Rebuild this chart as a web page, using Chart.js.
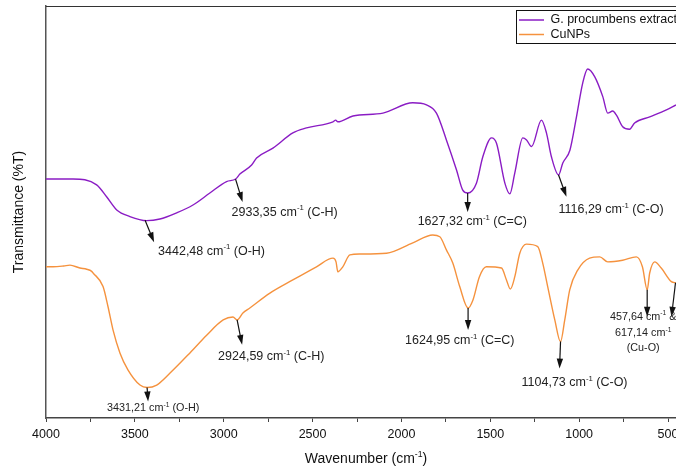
<!DOCTYPE html>
<html>
<head>
<meta charset="utf-8">
<script src="https://cdn.jsdelivr.net/npm/chart.js@4.4.0/dist/chart.umd.min.js"></script>
<style>
  html, body { margin: 0; padding: 0; background: #fff; }
  #wrap { width: 676px; height: 468px; }
</style>
</head>
<body>
<div id="wrap"><canvas id="ftir" width="676" height="468"></canvas></div>
<script>
// FTIR spectra, values (transmittance in arbitrary %T units)
const extractWn = [4000, 3848, 3715, 3659, 3602, 3528, 3434, 3359, 3265, 3173, 3078, 2984, 2933, 2909, 2843, 2815, 2723, 2611, 2534, 2385, 2370, 2358, 2273, 2104, 1936, 1859, 1803, 1747, 1690, 1655, 1627, 1578, 1542, 1493, 1465, 1418, 1390, 1362, 1317, 1296, 1268, 1212, 1184, 1156, 1116, 1092, 1052, 1015, 980, 952, 912, 867, 839, 811, 790, 755, 716, 688, 603, 509, 455];
const extractT = [58.0, 58.0, 56.6, 53.7, 50.5, 48.9, 47.9, 48.3, 49.8, 51.7, 54.6, 57.4, 58.0, 59.2, 61.4, 63.1, 65.5, 69.2, 70.4, 71.9, 72.3, 71.9, 73.3, 74.0, 76.5, 76.0, 74.0, 67.5, 60.2, 55.3, 54.6, 57.0, 63.4, 68.0, 66.7, 57.0, 54.4, 59.5, 68.0, 67.5, 65.9, 72.3, 69.2, 63.4, 59.0, 61.9, 65.0, 73.1, 81.3, 84.7, 82.8, 78.0, 74.0, 74.5, 73.5, 70.7, 70.1, 71.6, 73.1, 74.8, 76.0];

const cunpsWn = [4000, 3960, 3900, 3865, 3809, 3771, 3743, 3735, 3679, 3651, 3623, 3584, 3539, 3471, 3431, 3377, 3302, 3190, 3096, 3003, 2948, 2924, 2892, 2853, 2740, 2611, 2478, 2385, 2368, 2358, 2330, 2290, 2234, 2084, 1936, 1824, 1784, 1747, 1711, 1672, 1625, 1598, 1561, 1522, 1437, 1409, 1387, 1362, 1334, 1296, 1233, 1205, 1177, 1137, 1105, 1081, 1053, 1008, 941, 884, 839, 755, 678, 644, 617, 603, 575, 538, 481, 455];
const cunpsT = [36.7, 36.7, 36.9, 37.1, 36.4, 36.1, 35.6, 35.2, 31.9, 27.0, 21.4, 15.8, 11.7, 8.0, 7.4, 8.0, 10.9, 15.8, 20.1, 23.8, 24.5, 23.8, 25.5, 26.7, 30.3, 33.5, 36.7, 38.8, 37.9, 35.5, 36.7, 39.6, 39.8, 40.0, 42.5, 44.4, 44.0, 40.8, 37.6, 31.9, 26.7, 28.6, 34.3, 36.7, 36.4, 33.5, 31.3, 34.3, 40.0, 42.2, 41.6, 37.6, 31.9, 23.8, 18.5, 23.8, 31.1, 35.9, 38.8, 39.1, 37.9, 38.3, 39.1, 36.7, 31.1, 35.2, 37.9, 36.4, 33.1, 32.8];

const seriesNames = ['G. procumbens extract', 'CuNPs'];
const xTicks = [4000, 3500, 3000, 2500, 2000, 1500, 1000, 500];
const xMinorTicks = [3750, 3250, 2750, 2250, 1750, 1250, 750];

// peak annotations
const peakWn = [3442.48, 2933.35, 1627.32, 1116.29, 3431.21, 2924.59, 1624.95, 1104.73, 617.14, 457.64];
const peakSeries = [0, 0, 0, 0, 1, 1, 1, 1, 1, 1];
const peakBond = ['(O-H)', '(C-H)', '(C=C)', '(C-O)', '(O-H)', '(C-H)', '(C=C)', '(C-O)', '(Cu-O)', '(Cu-O)'];

const FONT = '"Liberation Sans", Arial, Helvetica, sans-serif';
const colors = ['#8a1cc4', '#f5923e'];

// arrow vector and label offset (pixels) for each peak; lx null = shared label
const peakLayout = [
  { dx: 9, dy: 22, lx: 13, ly: 31, size: 12.5 },
  { dx: 7, dy: 23, lx: -4, ly: 33, size: 12.5 },
  { dx: 0, dy: 19, lx: -50, ly: 29, size: 12.5 },
  { dx: 8, dy: 22, lx: 0, ly: 35, size: 12.5 },
  { dx: 1, dy: 14, lx: -40, ly: 21, size: 10.8 },
  { dx: 5, dy: 25, lx: -19, ly: 37, size: 12.5 },
  { dx: 0, dy: 22, lx: -63, ly: 33, size: 12.5 },
  { dx: -1, dy: 27, lx: -39, ly: 41, size: 12.5 },
  { dx: 0, dy: 27, lx: null, size: 10.8 },
  { dx: -4, dy: 34, lx: null, size: 10.8 }
];

function toPoints(wn, t) {
  return wn.map((w, i) => ({ x: w, y: t[i] }));
}

function valueAt(wn, t, w) {
  for (let i = 0; i < wn.length - 1; i++) {
    if (w <= wn[i] && w >= wn[i + 1]) {
      const f = (wn[i] - w) / (wn[i] - wn[i + 1]);
      return t[i] + f * (t[i + 1] - t[i]);
    }
  }
  return t[t.length - 1];
}

function richText(ctx, x, y, size, pieces, align) {
  const supSize = size * 0.62;
  let w = 0;
  pieces.forEach(p => {
    ctx.font = `${p[1] ? supSize : size}px ${FONT}`;
    w += ctx.measureText(p[0]).width;
  });
  let cx = align === 'center' ? x - w / 2 : x;
  ctx.textAlign = 'left';
  ctx.textBaseline = 'middle';
  pieces.forEach(p => {
    ctx.font = `${p[1] ? supSize : size}px ${FONT}`;
    ctx.fillText(p[0], cx, p[1] ? y - size * 0.33 : y);
    cx += ctx.measureText(p[0]).width;
  });
}

function wnLabel(w) {
  return w.toFixed(2).replace('.', ',');
}

function arrow(ctx, x1, y1, x2, y2) {
  const a = Math.atan2(y2 - y1, x2 - x1);
  const hl = 10, hw = 3.2;
  const c = Math.cos(a), s = Math.sin(a);
  ctx.beginPath();
  ctx.moveTo(x1, y1);
  ctx.lineTo(x2 - hl * c * 0.7, y2 - hl * s * 0.7);
  ctx.stroke();
  ctx.beginPath();
  ctx.moveTo(x2, y2);
  ctx.lineTo(x2 - hl * c + hw * s, y2 - hl * s - hw * c);
  ctx.lineTo(x2 - hl * c - hw * s, y2 - hl * s + hw * c);
  ctx.closePath();
  ctx.fill();
}

const decorations = {
  id: 'decorations',
  afterDatasetsDraw(chart) {
    const { ctx, chartArea: area, scales: { x, y } } = chart;
    const src = [[extractWn, extractT], [cunpsWn, cunpsT]];
    ctx.save();

    // top frame line
    ctx.strokeStyle = '#333';
    ctx.lineWidth = 1;
    ctx.beginPath();
    ctx.moveTo(area.left, area.top + 0.5);
    ctx.lineTo(area.right, area.top + 0.5);
    ctx.stroke();

    // peak arrows + labels
    ctx.strokeStyle = '#111';
    ctx.fillStyle = '#111';
    ctx.lineWidth = 1.2;
    peakWn.forEach((w, i) => {
      const s = src[peakSeries[i]];
      const px = Math.min(x.getPixelForValue(w), area.right - 0.5);
      const py = y.getPixelForValue(valueAt(s[0], s[1], w));
      const L = peakLayout[i];
      arrow(ctx, px, py, px + L.dx, py + L.dy);
      if (L.lx !== null) {
        ctx.fillStyle = '#222';
        richText(ctx, px + L.lx, py + L.ly, L.size,
          [[wnLabel(w) + ' cm', false], ['-1', true], [' ' + peakBond[i], false]], 'left');
        ctx.fillStyle = '#111';
      }
    });

    // shared Cu-O label
    const cuX = x.getPixelForValue(peakWn[8]) - 4;
    const cuY = y.getPixelForValue(valueAt(cunpsWn, cunpsT, peakWn[8]));
    ctx.fillStyle = '#222';
    richText(ctx, cuX, cuY + 27, 10.8, [[wnLabel(peakWn[9]) + ' cm', false], ['-1', true], [' &', false]], 'center');
    richText(ctx, cuX, cuY + 43.5, 10.8, [[wnLabel(peakWn[8]) + ' cm', false], ['-1', true]], 'center');
    richText(ctx, cuX, cuY + 58.5, 10.8, [[peakBond[8], false]], 'center');

    // axis titles
    ctx.fillStyle = '#111';
    richText(ctx, 366, 459, 14, [['Wavenumber (cm', false], ['-1', true], [')', false]], 'center');
    ctx.save();
    ctx.translate(19, 212);
    ctx.rotate(-Math.PI / 2);
    richText(ctx, 0, 0, 14, [['Transmittance (%T)', false]], 'center');
    ctx.restore();

    // legend
    ctx.strokeStyle = '#111';
    ctx.lineWidth = 1;
    ctx.strokeRect(516.5, 10.5, 200, 33);
    chart.data.datasets.forEach((ds, i) => {
      const ly = 20 + i * 14.5;
      ctx.strokeStyle = ds.borderColor;
      ctx.lineWidth = 1.5;
      ctx.beginPath();
      ctx.moveTo(519, ly);
      ctx.lineTo(544, ly);
      ctx.stroke();
      ctx.fillStyle = '#111';
      richText(ctx, 550.5, ly, 12.5, [[ds.label, false]], 'left');
    });
    ctx.restore();
  }
};

new Chart(document.getElementById('ftir'), {
  type: 'line',
  data: {
    datasets: [
      { label: seriesNames[0], data: toPoints(extractWn, extractT), borderColor: colors[0] },
      { label: seriesNames[1], data: toPoints(cunpsWn, cunpsT), borderColor: colors[1] }
    ]
  },
  options: {
    responsive: false,
    animation: false,
    devicePixelRatio: 1,
    layout: { padding: { top: 6, right: 0, left: 0, bottom: 0 } },
    elements: {
      point: { radius: 0 },
      line: { borderWidth: 1.4, cubicInterpolationMode: 'monotone', fill: false }
    },
    plugins: { legend: { display: false }, tooltip: { enabled: false } },
    scales: {
      x: {
        type: 'linear',
        reverse: true,
        min: 455,
        max: 4000,
        afterFit: s => { s.height = 50; s.paddingLeft = 0; s.paddingRight = 0; },
        afterBuildTicks: s => {
          s.ticks = xTicks.concat(xMinorTicks).sort((a, b) => b - a).map(v => ({ value: v }));
        },
        border: { color: '#444', width: 1.5 },
        grid: {
          drawOnChartArea: false, drawTicks: true, tickLength: 4, lineWidth: 1,
          tickColor: '#444'
        },
        ticks: {
          autoSkip: false,
          maxRotation: 0,
          padding: 5,
          color: '#111',
          font: { family: FONT, size: 12.5 },
          callback: v => (xTicks.includes(v) ? String(v) : '')
        }
      },
      y: {
        min: 0,
        max: 100,
        afterFit: s => { s.width = 46; },
        border: { color: '#555', width: 1.5 },
        grid: { display: false },
        ticks: { display: false }
      }
    }
  },
  plugins: [decorations]
});
</script>
</body>
</html>
